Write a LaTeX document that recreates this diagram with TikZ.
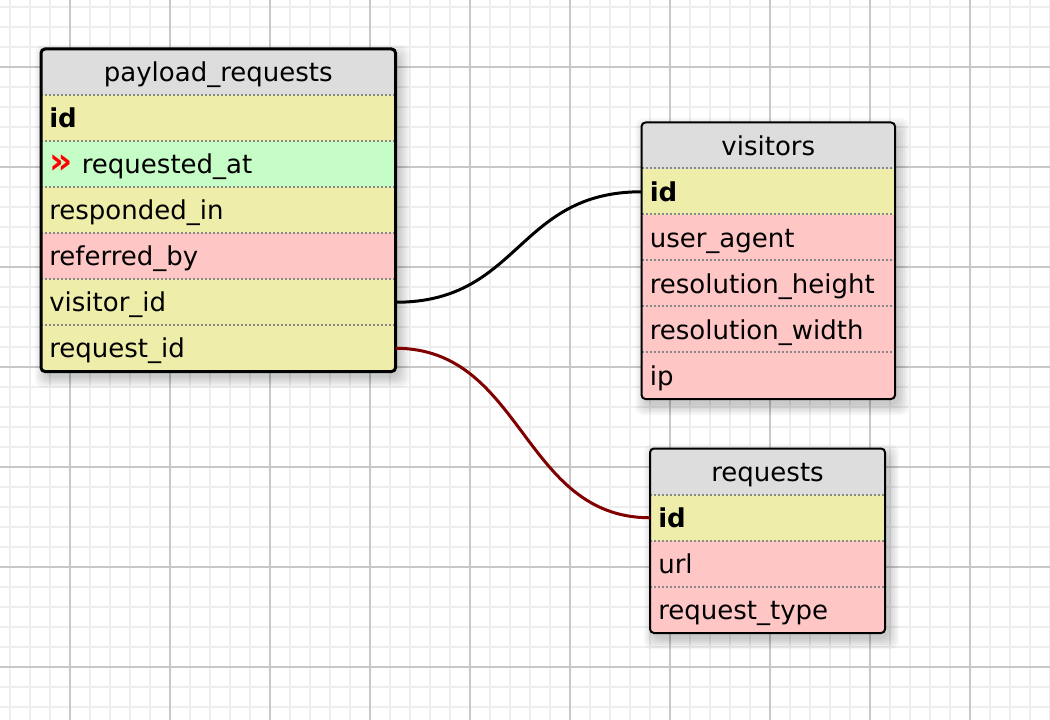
\documentclass[tikz,border=0pt]{standalone}
\usepackage{fontspec}
\setmainfont{DejaVu Sans}

\definecolor{hdrgray}{RGB}{221,221,221}
\definecolor{keyyellow}{RGB}{238,238,170}
\definecolor{idxgreen}{RGB}{198,252,198}
\definecolor{nullpink}{RGB}{255,198,198}
\definecolor{linkred}{RGB}{128,0,0}
\definecolor{gridminor}{RGB}{238,238,238}
\definecolor{gridmajor}{RGB}{200,200,200}
\definecolor{sepgray}{RGB}{136,136,136}

\pgfdeclarelayer{gridlayer}
\pgfdeclarelayer{shadowlayer}
\pgfsetlayers{gridlayer,shadowlayer,main}

\tikzset{
  cell/.style={anchor=north west, inner xsep=6pt, inner ysep=0pt, minimum height=34.5pt,
    text height=17pt, text depth=2.4pt, font=\fontsize{19.5pt}{23pt}\selectfont},
  hdr/.style={cell, fill=hdrgray, align=center},
  fld/.style={cell, align=left},
  keyfld/.style={fld, fill=keyyellow, font=\fontsize{19.5pt}{23pt}\selectfont\bfseries},
  prw/.style={text width=253.5pt},
  visw/.style={text width=177.75pt},
  reqw/.style={text width=163.9pt},
  sep/.style={sepgray, line width=1.5pt, dash pattern=on 1.5pt off 1.5pt},
  frame/.style={draw=black, line width=1.5pt, rounded corners=3pt},
  link/.style={line width=2.25pt},
  blur/.style={black, opacity=0.035, rounded corners=6pt}
}

\begin{document}
\begin{tikzpicture}[x=0.75pt,y=0.75pt,yscale=-1,xscale=1]
\useasboundingbox (0,0) rectangle (1050,720);

%Grid
\begin{pgfonlayer}{gridlayer}
\fill[white] (0,0) rectangle (1050,720);
\foreach \gx in {10,30,...,1050} \draw[gridminor, line width=1.4pt] (\gx,0) -- (\gx,720);
\foreach \gy in {6.7,26.7,...,720} \draw[gridminor, line width=1.4pt] (0,\gy) -- (1050,\gy);
\foreach \gx in {70,170,...,1050} \draw[gridmajor, line width=1.5pt] (\gx,0) -- (\gx,720);
\foreach \gy in {66.7,166.7,...,720} \draw[gridmajor, line width=1.5pt] (0,\gy) -- (1050,\gy);
\end{pgfonlayer}

%Table: payload_requests
\node[hdr, prw] (pr) at (41,49) {payload\_requests};
\node[keyfld, prw] (pr-id) at (41,95) {id};
\node[fld, prw, fill=idxgreen] (pr-at) at (41,141) {{\fontsize{27pt}{23pt}\selectfont\bfseries\color{red}»}\hspace{7pt}requested\_at};
\node[fld, prw, fill=keyyellow] (pr-in) at (41,187) {responded\_in};
\node[fld, prw, fill=nullpink] (pr-by) at (41,233) {referred\_by};
\node[fld, prw, fill=keyyellow] (pr-vis) at (41,279) {visitor\_id};
\node[fld, prw, fill=keyyellow] (pr-req) at (41,325) {request\_id};
\foreach \r in {pr-id,pr-at,pr-in,pr-by,pr-vis,pr-req} \draw[sep] (\r.north west) -- (\r.north east);
\draw[frame, line width=2.25pt] (pr.north west) rectangle (pr-req.south east);

%Table: visitors
\node[hdr, visw] (vis) at (641.5,122.5) {visitors};
\node[keyfld, visw] (vis-id) at (641.5,168.5) {id};
\node[fld, visw, fill=nullpink] (vis-agent) at (641.5,214.5) {user\_agent};
\node[fld, visw, fill=nullpink] (vis-height) at (641.5,260.5) {resolution\_height};
\node[fld, visw, fill=nullpink] (vis-width) at (641.5,306.5) {resolution\_width};
\node[fld, visw, fill=nullpink] (vis-ip) at (641.5,352.5) {ip};
\foreach \r in {vis-id,vis-agent,vis-height,vis-width,vis-ip} \draw[sep] (\r.north west) -- (\r.north east);
\draw[frame] (vis.north west) rectangle (vis-ip.south east);

%Table: requests
\node[hdr, reqw] (req) at (650,448.5) {requests};
\node[keyfld, reqw] (req-id) at (650,494.5) {id};
\node[fld, reqw, fill=nullpink] (req-url) at (650,540.5) {url};
\node[fld, reqw, fill=nullpink] (req-type) at (650,586.5) {request\_type};
\foreach \r in {req-id,req-url,req-type} \draw[sep] (\r.north west) -- (\r.north east);
\draw[frame] (req.north west) rectangle (req-type.south east);

%Shadows
\begin{pgfonlayer}{shadowlayer}
\foreach \s in {0,2,...,10} {
  \fill[blur] ([shift={(4-\s,6-\s)}]pr.north west) rectangle ([shift={(4+\s,6+\s)}]pr-req.south east);
  \fill[blur] ([shift={(4-\s,6-\s)}]vis.north west) rectangle ([shift={(4+\s,6+\s)}]vis-ip.south east);
  \fill[blur] ([shift={(4-\s,6-\s)}]req.north west) rectangle ([shift={(4+\s,6+\s)}]req-type.south east);
}
\end{pgfonlayer}

%Links
\draw[link, black] (pr-vis.east) .. controls +(125,0) and +(-125,0) .. (vis-id.west);
\draw[link, linkred] (pr-req.east) .. controls +(128,0) and +(-128,0) .. (req-id.west);

\end{tikzpicture}
\end{document}
